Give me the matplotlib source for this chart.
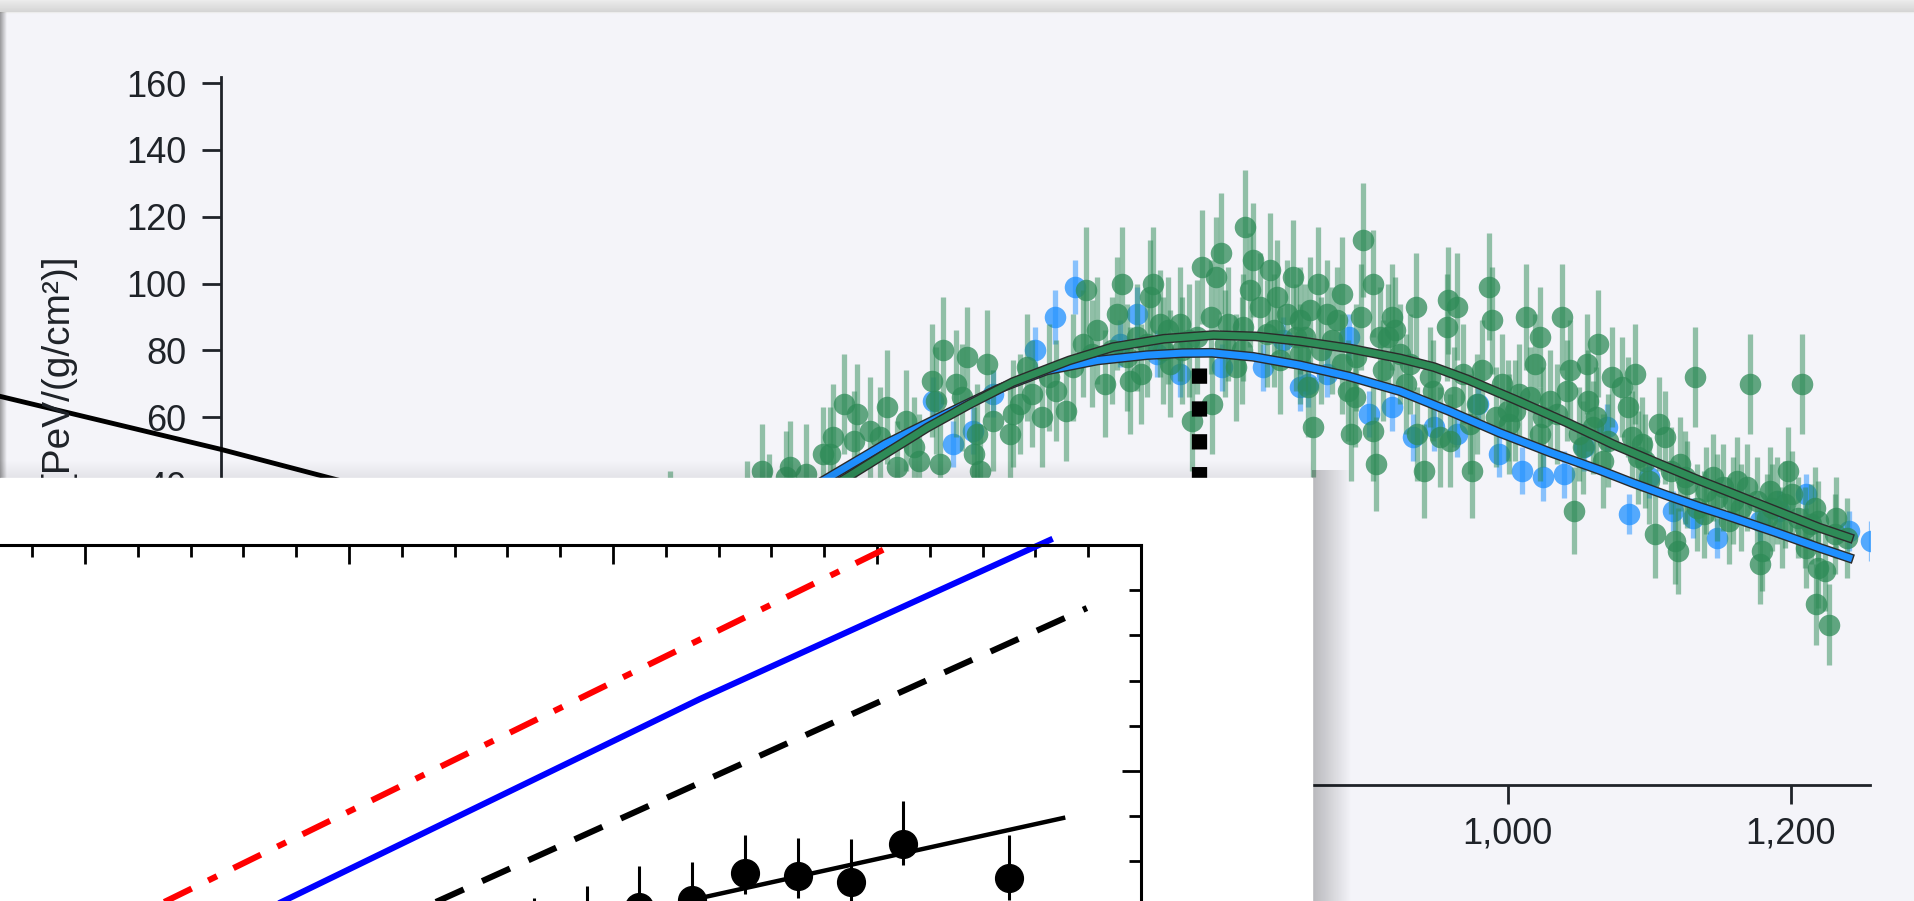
import numpy as np
import matplotlib.pyplot as plt
from matplotlib.patches import Rectangle
from matplotlib.ticker import MultipleLocator, FuncFormatter
import matplotlib.patheffects as pe

plt.rcParams['font.family'] = ['Liberation Sans', 'DejaVu Sans']

W, H = 1914, 901
LAV = '#f4f4f9'
INK = '#1f2329'

# ---- background chart data (x: depth, y: PeV/(g/cm2)) ----
green_x = [408, 462, 478, 473, 490, 493, 504, 516, 521, 523, 531, 538, 540, 549, 556, 561, 568, 575,
           580, 584, 593, 596, 601, 599, 614, 618, 623, 625, 627, 632, 636, 648, 650, 660, 664, 671,
           681, 688, 700, 702, 710, 715, 720, 724, 727, 731, 733, 741, 745, 747, 749, 754, 760, 761,
           768, 770, 777, 780, 784, 790, 791, 794, 797, 800, 808, 813, 814, 818, 820, 825, 830, 832,
           837, 839, 844, 848, 850, 853, 853, 859, 860, 862, 866, 872, 879, 883, 883, 887, 889, 892,
           896, 898, 905, 905, 907, 910, 915, 918, 920, 924, 931, 935, 936, 941, 947, 952, 957, 958,
           959, 964, 968, 973, 975, 982, 987, 989, 996, 1000, 1001, 1008, 1013, 1016, 1019, 1023,
           1023, 1025, 1030, 1035, 1038, 1042, 1044, 1047, 1053, 1056, 1057, 1060, 1062, 1064, 1067,
           1074, 1081, 1085, 1088, 1090, 1092, 1095, 1100, 1104, 1107, 1111, 1115, 1118, 1120, 1122,
           1127, 1132, 1134, 1139, 1140, 1145, 1152, 1156, 1159, 1165, 1169, 1171, 1176, 1178, 1180,
           1185, 1187, 1190, 1194, 1198, 1201, 1205, 1208, 1210, 1211, 1217, 1218, 1219, 1219, 1224,
           1227, 1231, 1240]
green_y = [29, 32, 34, 44, 42, 45, 43, 49, 49, 54, 64, 53, 61, 56, 54, 63, 45, 59,
           51, 47, 71, 65, 80, 46, 66, 78, 49, 55, 44, 76, 59, 55, 61, 75, 67, 60,
           68, 62, 82, 98, 86, 70, 80, 91, 100, 78, 71, 73, 82, 96, 100, 88, 86, 76,
           88, 80, 59, 84, 105, 90, 64, 102, 109, 82, 75, 87, 117, 98, 107, 93, 85, 104,
           96, 77, 91, 102, 84, 89, 79, 69, 92, 57, 100, 91, 89, 76, 97, 68, 55, 66,
           90, 113, 56, 100, 46, 84, 84, 90, 86, 79, 76, 93, 55, 44, 68, 54, 87, 95,
           53, 93, 73, 58, 44, 74, 99, 89, 70, 62, 58, 67, 90, 66, 76, 55,
           84, 60, 65, 61, 90, 68, 74, 32, 51, 76, 65, 57, 60, 82, 47,
           72, 69, 63, 54, 73, 48, 52, 41, 25, 58, 54, 44, 23, 20, 46,
           40, 72, 33, 31, 38, 42, 39, 29, 35, 33, 39, 70, 35, 16, 20,
           38, 33, 35, 27, 44, 37, 30, 70, 27, 21, 33, 4, 15, 29, 14,
           -2, 25, 24]
green_err = [15, 15, 15, 14, 14, 14, 15, 14, 14, 16, 15, 15, 15, 16, 15, 17, 14, 15,
             15, 14, 17, 16, 16, 15, 16, 15, 14, 15, 14, 16, 15, 15, 16, 16, 16, 15,
             15, 15, 16, 19, 16, 16, 16, 17, 17, 16, 16, 15, 16, 17, 17, 16, 16, 16,
             17, 16, 15, 17, 17, 17, 15, 18, 18, 16, 16, 16, 17, 17, 17, 16, 16, 17,
             17, 16, 16, 17, 16, 16, 15, 15, 16, 15, 17, 16, 16, 15, 17, 15, 14, 15,
             16, 17, 15, 16, 14, 15, 16, 16, 16, 15, 15, 16, 14, 14, 15, 15, 16, 16,
             14, 16, 15, 15, 14, 15, 16, 16, 15, 15, 15, 15, 16, 15, 15, 14,
             15, 15, 15, 15, 16, 15, 15, 13, 14, 15, 15, 14, 15, 16, 14,
             15, 15, 15, 14, 15, 14, 14, 13, 13, 14, 14, 13, 13, 13, 14,
             13, 15, 13, 13, 13, 13, 13, 13, 13, 13, 13, 15, 13, 12, 12,
             13, 13, 13, 12, 13, 13, 12, 15, 12, 12, 12, 12, 12, 12, 12,
             12, 12, 12]
# points hidden in the dense core of the cloud
core_x = [610, 655, 676, 693, 706, 738, 756, 775, 802, 812, 835, 857, 868, 876, 893, 912,
          928, 945, 962, 978, 992, 1005, 1050, 1071, 1097, 1125, 1148, 1162, 1183, 1196, 1214, 1232]
core_y = [70, 64, 72, 75, 79, 84, 80, 83, 88, 80, 86, 84, 80, 83, 78, 74,
          70, 72, 66, 64, 60, 62, 55, 53, 47, 42, 36, 41, 30, 34, 28, 30]
core_err = [16, 15, 16, 16, 16, 16, 16, 17, 17, 16, 17, 16, 16, 16, 16, 15,
            15, 15, 15, 15, 15, 15, 14, 14, 14, 14, 13, 13, 13, 13, 12, 12]

blue_x = [594, 608, 622, 636, 666, 680, 694, 726, 738, 752, 768, 798, 827, 841, 853, 859, 872,
          888, 902, 918, 933, 948, 964, 979, 994, 1010, 1025, 1040, 1054, 1070, 1086, 1100, 1117,
          1131, 1148, 1178, 1192, 1211, 1241, 1257]
blue_y = [65, 52, 56, 67, 80, 90, 99, 82, 91, 79, 73, 75, 75, 83, 69, 70, 73,
          84, 61, 63, 54, 57, 55, 64, 49, 44, 42, 43, 51, 57, 31, 42, 32,
          30, 24, 29, 32, 37, 26, 23]
blue_err = [7, 7, 7, 7, 7, 8, 8, 7, 8, 7, 7, 7, 7, 7, 7, 7, 7,
            7, 7, 7, 7, 7, 7, 7, 7, 7, 7, 7, 7, 7, 6, 6, 6,
            6, 6, 6, 6, 6, 6, 6]

# fitted profiles
blue_fit_x = [440, 516, 560, 603, 640, 674, 710, 745, 770, 791, 820, 853, 888, 924, 959, 994,
              1030, 1065, 1088, 1112, 1135, 1159, 1190, 1220, 1241]
blue_fit_y = [22, 41, 52, 61, 68.5, 74, 77, 78.6, 79.2, 79.3, 78.1, 75.6, 72.2, 67.8, 61.8, 55.4,
              49.5, 44.2, 40.4, 36.7, 33.3, 30, 25.5, 21, 18]
green_fit_x = [455, 533, 590, 620, 650, 690, 721, 757, 792, 822, 853, 888, 924, 948, 971, 1005,
               1042, 1075, 1112, 1135, 1159, 1190, 1220, 1241]
green_fit_y = [22, 42, 57, 64, 70.5, 77, 81, 83.5, 84.6, 84.2, 82.8, 80.6, 77.6, 75, 71.4, 65.3,
               58.4, 51.8, 45.2, 41.2, 37.2, 32, 27, 24]

xmax_line_x = 782
xmax_line_top = 74.7
side_curve_x = [-66, 90.5, 177, 350]
side_curve_y = [66.3, 50.4, 40.8, 22]

# ---- inset chart data ----
inset_x = [1.7, 1.9, 2.1, 2.3, 2.5, 2.7, 2.9, 3.1, 3.5]
inset_y = [-0.74, -0.69, -0.60, -0.571, -0.451, -0.465, -0.491, -0.323, -0.474]
inset_err_lo = [0.095] * 9
inset_err_hi = [0.18, 0.18, 0.18, 0.17, 0.17, 0.17, 0.19, 0.19, 0.19]
fit_x = [1.5, 3.705]
fit_y = [-0.776, -0.208]
dashed_x = [1.12, 3.795]
dashed_y = [-0.69, 0.721]
blue_line_x = [0.55, 2.33, 3.655]
blue_line_y = [-0.69, 0.319, 1.022]
red_line_x = [0.09, 3.06]
red_line_y = [-0.70, 1.0]

fig = plt.figure(figsize=(W / 100, H / 100), dpi=100)
fig.patch.set_facecolor(LAV)


def grad(ax, x0, x1, y0, y1, a0, a1, horizontal=True, color=(0, 0, 0)):
    n = 64
    a = np.linspace(a0, a1, n)
    img = np.zeros((1, n, 4)) if horizontal else np.zeros((n, 1, 4))
    img[..., 0], img[..., 1], img[..., 2] = color
    img[..., 3] = a.reshape(img.shape[:2])
    ax.imshow(img, extent=(x0, x1, y1, y0), aspect='auto', interpolation='bilinear', zorder=1)


# decoration behind the chart
deco = fig.add_axes([0, 0, 1, 1], zorder=-1)
deco.set_xlim(0, W)
deco.set_ylim(H, 0)
deco.axis('off')
deco.add_patch(Rectangle((0, 0), W, 12, color='#ececec', zorder=0))
grad(deco, 0, W, 0, 12, 0.0, 0.10, horizontal=False)
grad(deco, 0, 7, 12, H, 0.38, 0.0)

# background chart
ax = fig.add_axes([221 / W, 1 - 785 / H, (1870 - 221) / W, (785 - 77) / H], zorder=1)
ax.patch.set_alpha(0)
ax.set_xlim(90.5, 1256)
ax.set_ylim(-50, 161.8)
for s in ['top', 'right']:
    ax.spines[s].set_visible(False)
for s in ['left', 'bottom']:
    ax.spines[s].set_color(INK)
    ax.spines[s].set_linewidth(2)
ax.set_xticks(range(200, 1201, 200))
ax.set_yticks(range(-40, 161, 20))
ax.xaxis.set_major_formatter(FuncFormatter(lambda v, p: f'{v:,.0f}'))
ax.tick_params(direction='out', length=14, width=2, colors=INK, labelsize=26)
ax.tick_params(axis='x', pad=9)
ax.tick_params(axis='y', pad=11)

gx = green_x + core_x
gy = green_y + core_y
ge = green_err + core_err
ax.errorbar(blue_x, blue_y, yerr=blue_err, fmt='none', ecolor='#1e90ff', alpha=0.5,
            elinewidth=3.8, zorder=2)
ax.plot(blue_x, blue_y, 'o', ms=15.5, color='#1e90ff', alpha=0.75, mec='none', zorder=2)
ax.errorbar(gx, gy, yerr=ge, fmt='none', ecolor='#2e8b57', alpha=0.5,
            elinewidth=3.8, zorder=3)
ax.plot(gx, gy, 'o', ms=15.5, color='#2e8b57', alpha=0.75, mec='none', zorder=3)

outline = [pe.Stroke(linewidth=7, foreground='#2b2b2b'), pe.Normal()]
ax.plot(blue_fit_x, blue_fit_y, color='#1e90ff', lw=5, zorder=4, path_effects=outline,
        solid_joinstyle='round')
ax.plot(green_fit_x, green_fit_y, color='#2e8b57', lw=5, zorder=5, path_effects=outline,
        solid_joinstyle='round')

ax.plot([xmax_line_x, xmax_line_x], [xmax_line_top, -50], color='black', lw=11,
        ls=(0, (1, 1.15)), zorder=6)
ax.plot(side_curve_x, side_curve_y, color='black', lw=3.5, clip_on=False, zorder=7)

fig.text(57 / W, 1 - 254 / H, '[PeV/(g/cm²)]', rotation=90, ha='center', va='top',
         fontsize=28, color=INK)

# overlaid white panel with its shadow
ov = fig.add_axes([0, 0, 1, 1], zorder=5)
ov.set_xlim(0, W)
ov.set_ylim(H, 0)
ov.axis('off')
grad(ov, 1312, 1352, 470, H, 0.25, 0.0)
grad(ov, 0, 1312, 460, 478, 0.0, 0.07, horizontal=False)
ov.add_patch(Rectangle((0, 478), 1312, H - 478, color='white', zorder=2))

# inset chart
ins = fig.add_axes([-47 / W, 1 - 997 / H, 1188 / W, 452 / H], zorder=6)
ins.set_facecolor('white')
ins.set_xlim(-0.5, 4.0)
ins.set_ylim(-1, 1)
for s in ins.spines.values():
    s.set_linewidth(2.2)
    s.set_color('black')
ins.xaxis.set_major_locator(MultipleLocator(1))
ins.xaxis.set_minor_locator(MultipleLocator(0.2))
ins.yaxis.set_major_locator(MultipleLocator(1))
ins.yaxis.set_minor_locator(MultipleLocator(0.2))
ins.tick_params(which='both', direction='in', top=True, right=True, width=2, colors='black',
                labelbottom=False, labelleft=False, labeltop=False, labelright=False)
ins.tick_params(which='major', length=14)
ins.tick_params(which='minor', length=8.5)

ins.plot(red_line_x, red_line_y, color='red', lw=4.4, ls=(0, (5, 3, 1.6, 3)), clip_on=False)
ins.plot(blue_line_x, blue_line_y, color='blue', lw=4.4, clip_on=False)
ins.plot(dashed_x, dashed_y, color='black', lw=4.4, ls=(0, (5, 3.3)))
ins.plot(fit_x, fit_y, color='black', lw=3.2)
ins.errorbar(inset_x, inset_y, yerr=[inset_err_lo, inset_err_hi], fmt='o', ms=20,
             color='black', elinewidth=2.2, capsize=0)

fig.savefig('out.png', dpi=100, facecolor=fig.get_facecolor())
